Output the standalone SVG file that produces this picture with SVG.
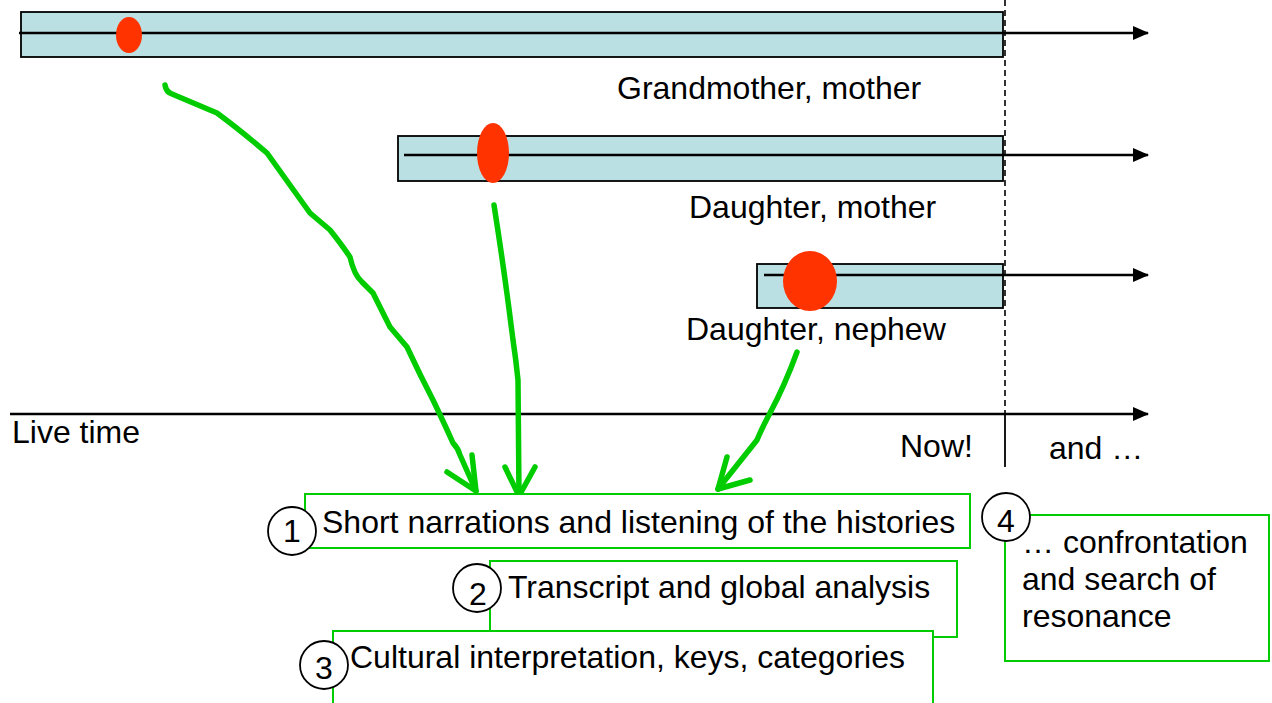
<svg xmlns="http://www.w3.org/2000/svg" width="1272" height="703" viewBox="0 0 1272 703">
<defs>
<marker id="ah" markerWidth="16" markerHeight="14" refX="15" refY="7" orient="auto" markerUnits="userSpaceOnUse">
<path d="M0,0 L16,7 L0,14 Z" fill="#000"/>
</marker>
<style>
text{font-family:"Liberation Sans",Arial,sans-serif;font-size:32px;fill:#000}
.bar{fill:#BBE0E3;stroke:#000;stroke-width:1.8}
.tl{stroke:#000;stroke-width:2.5;fill:none}
.dot{fill:#FF3300}
.g{fill:none;stroke:#00CC00;stroke-width:5.5;stroke-linecap:round;stroke-linejoin:round}
.box{fill:#fff;stroke:#00CC00;stroke-width:2}
.num{fill:#fff;stroke:#000;stroke-width:1.8}
.c{text-anchor:middle}
</style>
</defs>
<rect width="1272" height="703" fill="#fff"/>
<g id="timeline1">
<rect class="bar" x="21" y="12" width="982" height="45"/>
<line class="tl" x1="19" y1="33" x2="1148" y2="33" marker-end="url(#ah)"/>
<ellipse class="dot" cx="129" cy="35" rx="13" ry="18"/>
<text x="617" y="99">Grandmother, mother</text>
</g>
<g id="timeline2">
<rect class="bar" x="398" y="136" width="605" height="45"/>
<line class="tl" x1="404" y1="155" x2="1148" y2="155" marker-end="url(#ah)"/>
<ellipse class="dot" cx="493" cy="153" rx="16" ry="30"/>
<text x="689" y="218">Daughter, mother</text>
</g>
<g id="timeline3">
<rect class="bar" x="757" y="264" width="246" height="44"/>
<line class="tl" x1="764" y1="275" x2="1148" y2="275" marker-end="url(#ah)"/>
<ellipse class="dot" cx="810" cy="281" rx="27" ry="30"/>
<text x="686" y="340">Daughter, nephew</text>
</g>
<g id="axis">
<line class="tl" x1="10" y1="414" x2="1148" y2="414" marker-end="url(#ah)"/>
<line x1="1005" y1="0" x2="1005" y2="414" stroke="#000" stroke-width="1.6" stroke-dasharray="6,4"/>
<line x1="1005" y1="414" x2="1005" y2="467" stroke="#000" stroke-width="1.8"/>
<text x="12" y="443">Live time</text>
<text x="900" y="457">Now!</text>
<text x="1049" y="459">and …</text>
</g>
<g id="connectors">
<path class="g" d="M165,85 Q166,92 172,94 L217,113 Q240,130 267,153 Q290,185 310,213 L330,230 Q342,245 350,257 Q354,275 362,282 Q368,288 373,293 L390,327 L407,347 Q420,375 433,400 Q445,425 453,443 Q458,448 460,455 L476,491"/>
<path class="g" d="M472,455 L476,491 L447,472"/>
<path class="g" d="M494,205 Q505,275 513,340 Q516,360 518,380 L519,496"/>
<path class="g" d="M505,467 L519,496 L535,467"/>
<path class="g" d="M797,352 Q785,385 770,413 Q762,428 757,440 L718,489"/>
<path class="g" d="M727,457 L718,489 L750,480"/>
</g>
<g id="step1">
<rect class="box" x="305" y="494" width="665" height="54"/>
<circle class="num" cx="292" cy="531" r="24"/>
<text class="c" x="292" y="542">1</text>
<text x="322" y="533">Short narrations and listening of the histories</text>
</g>
<g id="step2">
<rect class="box" x="490" y="561" width="467" height="76"/>
<circle class="num" cx="477" cy="588" r="24"/>
<text class="c" x="478" y="605">2</text>
<text x="508" y="598">Transcript and global analysis</text>
</g>
<g id="step3">
<rect class="box" x="333" y="631" width="600" height="90"/>
<circle class="num" cx="324" cy="665" r="24"/>
<text class="c" x="324" y="679">3</text>
<text x="350" y="668">Cultural interpretation, keys, categories</text>
</g>
<g id="step4">
<rect class="box" x="1005" y="515" width="264" height="146"/>
<circle class="num" cx="1006" cy="517" r="24"/>
<text class="c" x="1006" y="532">4</text>
<text x="1022" y="553">… confrontation</text>
<text x="1022" y="590">and search of</text>
<text x="1022" y="627">resonance</text>
</g>
</svg>
